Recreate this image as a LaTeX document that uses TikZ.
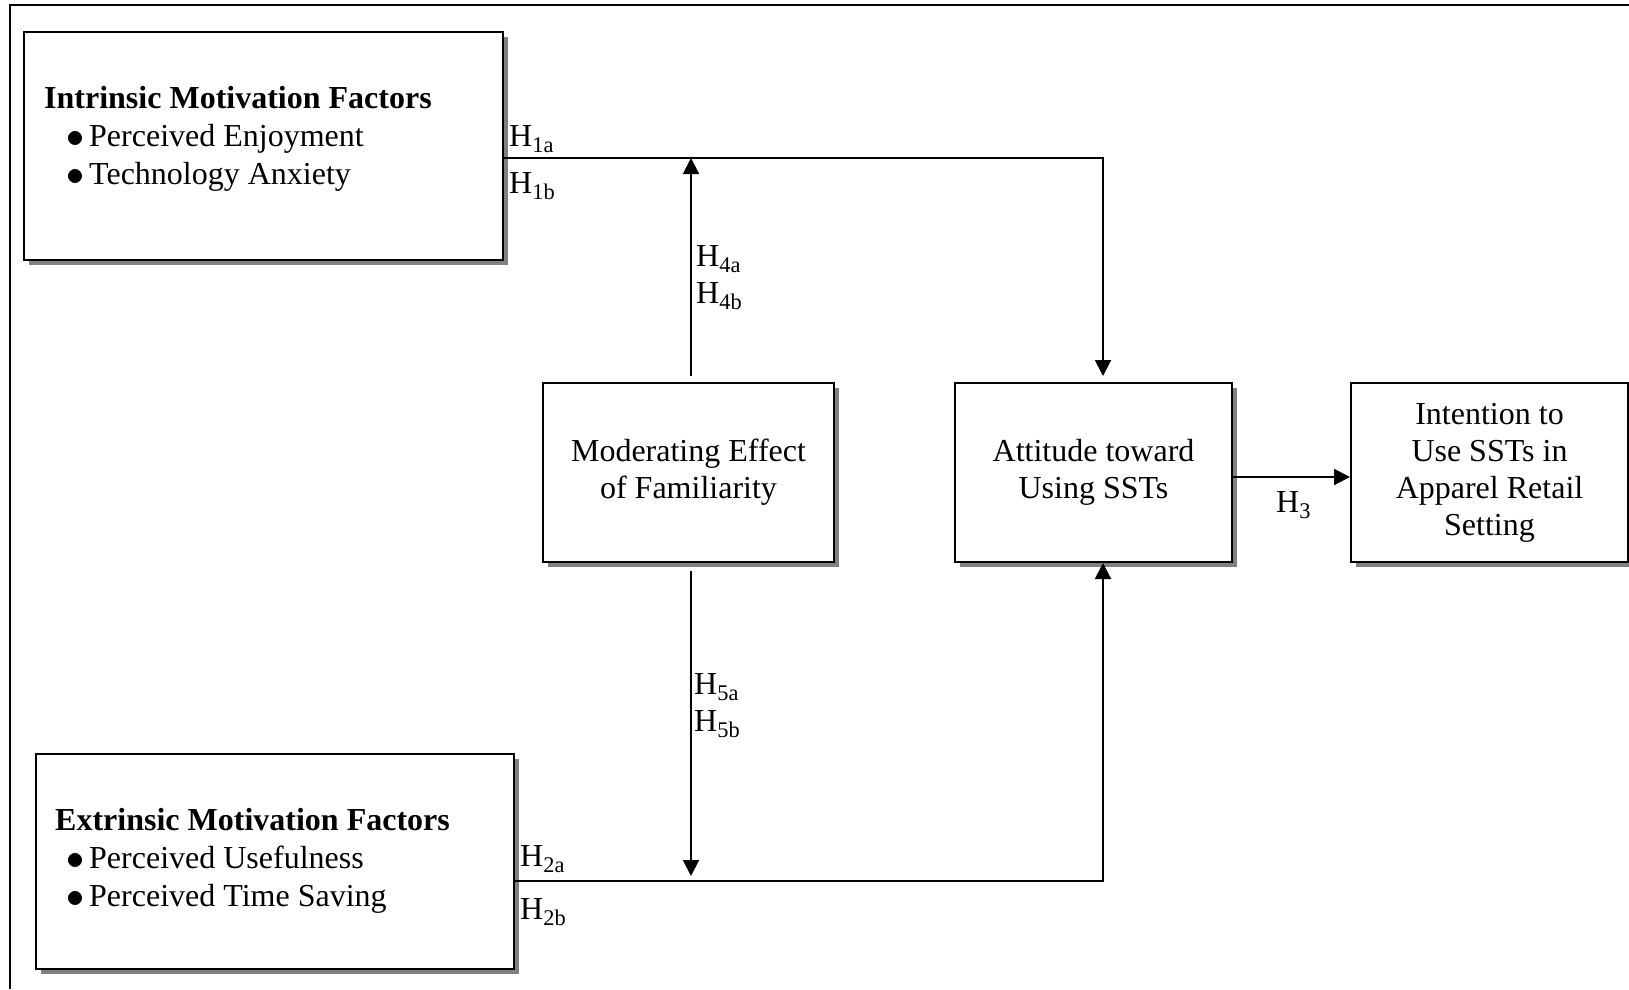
\documentclass[tikz,border=0pt]{standalone}
\usepackage{fontspec}
\setmainfont{Liberation Serif}
\usetikzlibrary{arrows.meta,shadows}
\tikzset{
 box/.style={draw, line width=2pt, fill=white, anchor=north west, inner sep=0pt, align=center,
   drop shadow={shadow xshift=5pt, shadow yshift=-5pt, fill=black!50, opacity=1}},
 conn/.style={line width=2pt},
 arr/.style={conn, -{Triangle[length=16pt,width=16pt]}},
 lbl/.style={anchor=base west, inner sep=0pt},
 txt/.style={anchor=base west, inner sep=0pt},
 ttl/.style={txt, font=\fontsize{32}{37}\selectfont\bfseries},
}
\newcommand{\bul}{\makebox[23pt][l]{\raisebox{-1.5pt}{\scalebox{1.45}{$\bullet$}}}}
\begin{document}
\begin{tikzpicture}[x=1pt,y=1pt, font=\fontsize{32}{37}\selectfont]
\useasboundingbox (0,0) rectangle (1629,-989);
\draw[line width=2pt] (10,-989) -- (10,-5) -- (1629,-5);

% boxes
\node[box, minimum width=479, minimum height=228] (intr) at (23,-31) {};
\node[box, minimum width=478, minimum height=215] (extr) at (35,-753) {};
\node[box, minimum width=291, minimum height=179] (mod) at (542,-382) {Moderating Effect\\of Familiarity};
\node[box, minimum width=277, minimum height=179] (att) at (954,-382) {Attitude toward\\Using SSTs};
\node[box, minimum width=277, minimum height=179] (int) at (1350,-382) {Intention to\\Use SSTs in\\Apparel Retail\\Setting};

% box texts
\node[ttl] (t1) at (44,-108) {Intrinsic Motivation Factors};
\node[txt] (t1a) at (66,-146) {\bul Perceived Enjoyment};
\node[txt] (t1b) at (66,-184) {\bul Technology Anxiety};
\node[ttl] (t2) at (55,-830) {Extrinsic Motivation Factors};
\node[txt] (t2a) at (66,-868) {\bul Perceived Usefulness};
\node[txt] (t2b) at (66,-906) {\bul Perceived Time Saving};

% junctions
\coordinate (j1) at (1103,-158);
\coordinate (j2) at (1103,-881);

% connectors
\draw[arr, shorten >=6pt] (intr.east |- j1) -- (j1) -- (j1 |- att.north);
\draw[arr] (extr.east |- j2) -- (j2) -- (j2 |- att.south);
\draw[arr, shorten <=6pt] ([xshift=2.5pt]mod.north) -- ([xshift=2.5pt]mod.north |- j1);
\draw[arr, shorten <=8pt, shorten >=5pt] ([xshift=2.5pt]mod.south) -- ([xshift=2.5pt]mod.south |- j2);
\draw[arr] ([yshift=-4.5pt]att.east) -- ([yshift=-4.5pt]att.east -| int.west);

% labels
\node[lbl] (h1a) at (509,-146) {H\textsubscript{1a}};
\node[lbl] (h1b) at (509,-193) {H\textsubscript{1b}};
\node[lbl] (h4a) at (696,-266) {H\textsubscript{4a}};
\node[lbl] (h4b) at (696,-303) {H\textsubscript{4b}};
\node[lbl] (h5a) at (694,-694) {H\textsubscript{5a}};
\node[lbl] (h5b) at (694,-731) {H\textsubscript{5b}};
\node[lbl] (h2a) at (520,-866) {H\textsubscript{2a}};
\node[lbl] (h2b) at (520,-919) {H\textsubscript{2b}};
\node[lbl] (h3) at (1276,-512) {H\textsubscript{3}};
\end{tikzpicture}
\end{document}
